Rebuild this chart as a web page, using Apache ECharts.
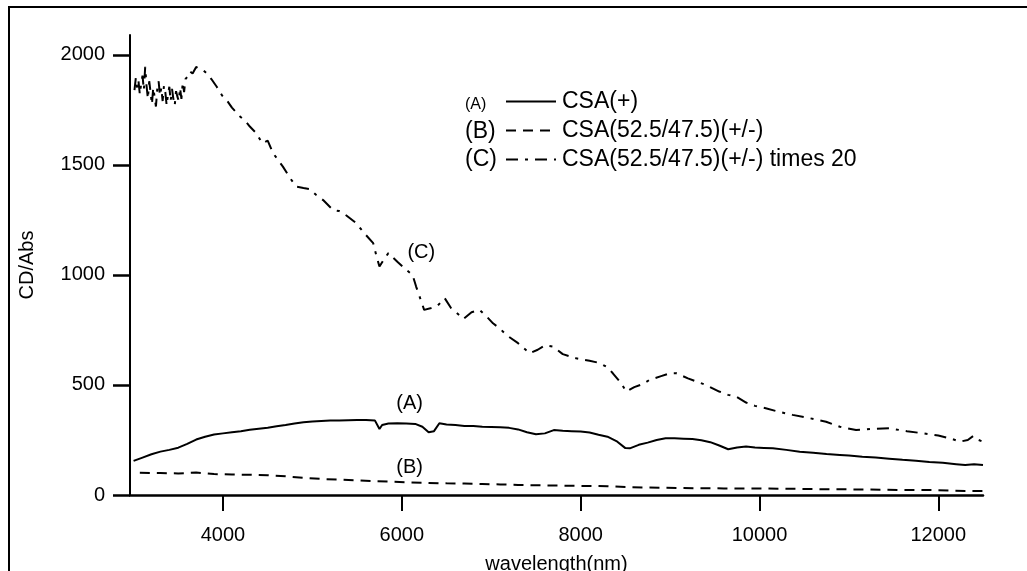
<!DOCTYPE html>
<html>
<head>
<meta charset="utf-8">
<script src="https://cdn.jsdelivr.net/npm/echarts@6/dist/echarts.min.js"></script>
<style>
html,body{margin:0;padding:0;background:#fff;}
#chart{width:1027px;height:571px;}
</style>
</head>
<body>
<div id="chart"></div>
<script>
// ---- data ----
const xTicks = [4000, 6000, 8000, 10000, 12000];
const yTicks = [0, 500, 1000, 1500, 2000];

const seriesNames = ['CSA(+)', 'CSA(52.5/47.5)(+/-)', 'CSA(52.5/47.5)(+/-) times 20'];
const seriesTags = ['(A)', '(B)', '(C)'];

const wlA = [3000,3100,3200,3300,3400,3500,3600,3700,3800,3900,4000,4100,4200,4300,4400,4500,4600,4700,4800,4900,5000,5100,5200,5300,5400,5500,5600,5700,5750,5780,5850,5950,6050,6150,6230,6300,6360,6420,6500,6600,6700,6800,6900,7000,7100,7200,7300,7400,7500,7600,7700,7800,7900,8000,8100,8200,8300,8400,8500,8550,8650,8750,8850,8950,9050,9150,9250,9350,9450,9550,9650,9750,9850,9950,10050,10150,10300,10450,10600,10750,10900,11000,11150,11300,11450,11600,11750,11900,12050,12200,12300,12400,12500];
const cdA = [155,170,185,197,205,215,232,252,265,275,280,285,290,296,301,306,312,318,325,331,334,336,338,339,340,341,341,338,300,318,325,326,325,323,310,285,290,326,320,318,314,314,310,309,308,305,298,285,276,280,295,292,290,288,284,274,265,245,213,212,228,238,250,258,258,256,254,249,240,225,208,216,220,216,214,212,205,197,192,186,182,179,174,170,165,160,156,150,146,140,136,140,136];

const wlB = [3070,3300,3500,3700,3900,4100,4300,4500,4700,4900,5100,5300,5500,5700,5900,6100,6300,6500,6700,6900,7100,7300,7500,7700,7900,8100,8300,8500,8700,8900,9100,9300,9600,10000,10400,10800,11200,11600,12000,12300,12500];
const cdB = [101,100,98,102,95,93,92,90,85,78,73,70,66,63,60,57,55,53,52,50,48,46,44,43,42,41,40,36,34,33,32,31,30,30,28,26,25,23,22,18,18];

const wlC = [3010,3025,3040,3055,3070,3085,3100,3115,3130,3145,3160,3175,3190,3205,3220,3235,3250,3265,3280,3295,3310,3325,3340,3355,3370,3385,3400,3415,3430,3445,3460,3475,3490,3505,3520,3535,3550,3565,3580,3600,3630,3660,3700,3740,3780,3820,3870,3930,3990,4040,4100,4190,4250,4300,4370,4440,4500,4560,4620,4670,4750,4820,4900,4970,5040,5120,5230,5300,5380,5490,5580,5680,5720,5750,5800,5850,5950,6050,6120,6160,6200,6250,6330,6400,6480,6550,6650,6690,6780,6870,6950,7020,7100,7170,7300,7430,7520,7600,7690,7800,7950,8100,8210,8300,8360,8450,8510,8600,8700,8770,8900,9000,9070,9200,9300,9400,9550,9650,9740,9850,9950,10070,10200,10370,10550,10745,10900,11080,11250,11450,11650,11830,12000,12150,12240,12330,12390,12450,12500];
const cdC = [1840,1895,1850,1880,1820,1870,1905,1840,1945,1860,1800,1880,1830,1775,1850,1810,1765,1845,1880,1815,1850,1790,1860,1830,1770,1820,1855,1790,1845,1800,1770,1835,1810,1790,1850,1800,1875,1830,1890,1900,1925,1915,1945,1935,1930,1915,1890,1855,1815,1795,1760,1720,1700,1674,1645,1598,1610,1553,1520,1492,1440,1401,1395,1390,1364,1340,1295,1290,1270,1235,1190,1144,1080,1038,1070,1099,1060,1023,1000,947,900,841,850,860,894,850,815,800,830,841,810,780,755,727,690,644,660,680,674,640,621,610,600,580,553,510,470,490,505,523,540,553,553,530,515,500,470,455,447,420,405,394,380,364,350,333,310,295,300,303,290,280,270,255,242,250,268,250,242];

// annotation anchors (data space)
const tagA = [6087, 418];
const tagB = [6087, 127];
const tagC = [6218, 1100];

// ---- chart ----
const FONT = '"Liberation Sans", Arial, Helvetica, sans-serif';
const pairs = (xs, ys) => xs.map((x, i) => [x, ys[i]]);
const plain = v => String(v);

function tagPoint(coord, text) {
  return {
    symbol: 'rect',
    symbolSize: 30,
    silent: true,
    itemStyle: { color: 'rgba(0,0,0,0)' },
    data: [{ coord: coord }],
    label: { show: true, formatter: text, position: 'inside', color: '#000', fontSize: 20, fontFamily: FONT }
  };
}

const chart = echarts.init(document.getElementById('chart'), null, { renderer: 'canvas' });
chart.setOption({
  animation: false,
  backgroundColor: '#fff',
  textStyle: { fontFamily: FONT, color: '#000' },
  grid: { left: 130, right: 44, top: 35, bottom: 76, containLabel: false, outerBoundsMode: 'none' },
  legend: {
    left: 505, top: 90, orient: 'vertical', padding: 0,
    itemWidth: 50, itemHeight: 12, itemGap: 6,
    selectedMode: false,
    itemStyle: { opacity: 0 },
    textStyle: { fontSize: 23, fontFamily: FONT, color: '#000', padding: [0, 0, 0, 1] },
    data: seriesNames
  },
  graphic: [
    { type: 'rect', z: -1, silent: true,
      shape: { x: 9, y: 7, width: 1040, height: 600 }, style: { fill: 'none', stroke: '#000', lineWidth: 2 } },
    { type: 'text', x: 465, y: 97, silent: true,
      style: { text: seriesTags[0], fontSize: 16, fontFamily: FONT, fill: '#000' } },
    { type: 'text', x: 465, y: 120, silent: true,
      style: { text: seriesTags[1], fontSize: 23, fontFamily: FONT, fill: '#000' } },
    { type: 'text', x: 465, y: 148, silent: true,
      style: { text: seriesTags[2], fontSize: 23, fontFamily: FONT, fill: '#000' } }
  ],
  xAxis: {
    type: 'value', min: 2960, max: 12500,
    name: 'wavelength(nm)', nameLocation: 'middle', nameGap: 59,
    nameTextStyle: { fontSize: 20, fontFamily: FONT, color: '#000' },
    axisLine: { show: true, onZero: false, lineStyle: { color: '#000', width: 2.5 } },
    axisTick: { show: true, inside: false, length: 16, lineStyle: { color: '#000', width: 2 }, customValues: xTicks },
    axisLabel: { show: true, margin: 30, fontSize: 20, fontFamily: FONT, color: '#000', customValues: xTicks, formatter: plain },
    splitLine: { show: false }
  },
  yAxis: {
    type: 'value', min: 0, max: 2090,
    name: 'CD/Abs', nameLocation: 'middle', nameGap: 93, nameRotate: 90,
    nameTextStyle: { fontSize: 20, fontFamily: FONT, color: '#000' },
    axisLine: { show: true, onZero: false, lineStyle: { color: '#000', width: 2 } },
    axisTick: { show: true, inside: false, length: 17, lineStyle: { color: '#000', width: 2.5 }, customValues: yTicks },
    axisLabel: { show: true, margin: 25, fontSize: 20, fontFamily: FONT, color: '#000', customValues: yTicks, formatter: plain },
    splitLine: { show: false }
  },
  series: [
    { name: seriesNames[0], type: 'line', data: pairs(wlA, cdA), showSymbol: false, symbol: 'none',
      lineStyle: { color: '#000', width: 2, type: 'solid' }, itemStyle: { color: '#000' },
      markPoint: tagPoint(tagA, seriesTags[0]) },
    { name: seriesNames[1], type: 'line', data: pairs(wlB, cdB), showSymbol: false, symbol: 'none',
      lineStyle: { color: '#000', width: 2, type: [10, 7] }, itemStyle: { color: '#000' },
      markPoint: tagPoint(tagB, seriesTags[1]) },
    { name: seriesNames[2], type: 'line', data: pairs(wlC, cdC), showSymbol: false, symbol: 'none',
      lineStyle: { color: '#000', width: 2, type: [12, 7, 3, 7] }, itemStyle: { color: '#000' },
      markPoint: tagPoint(tagC, seriesTags[2]) }
  ]
});
</script>
</body>
</html>
